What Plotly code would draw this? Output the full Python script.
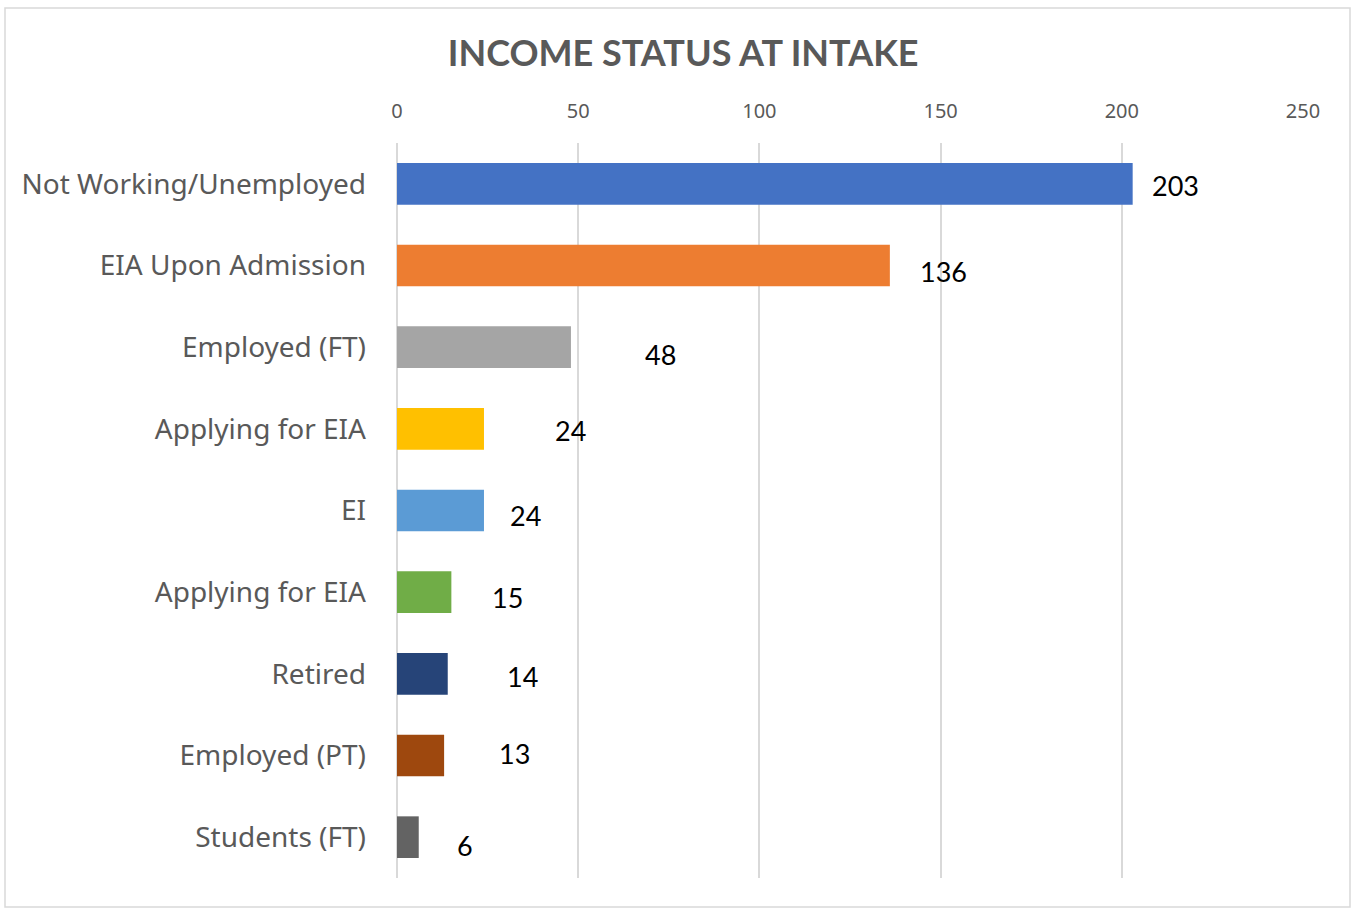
import plotly.graph_objects as go

# Income status counts at intake
categories = [
    "Not Working/Unemployed",
    "EIA Upon Admission",
    "Employed (FT)",
    "Applying for EIA",
    "EI",
    "Applying for EIA",
    "Retired",
    "Employed (PT)",
    "Students (FT)",
]
counts = [203, 136, 48, 24, 24, 15, 14, 13, 6]
bar_colors = [
    "#4472C4", "#ED7D31", "#A5A5A5", "#FFC000", "#5B9BD5",
    "#70AD47", "#264478", "#9E480E", "#636363",
]
x_ticks = [0, 50, 100, 150, 200, 250]

# Value label placement (pixel offsets from the bar end)
label_dx = [17, 28, 72, 69, 24, 39, 57, 53, 36]
label_dy = [-2, -6, -7, -2, -5, -5, -3, 2, -8]

W, H = 1355, 909
ML, MR, MT, MB = 397, 52, 143, 31
PW, PH = W - ML - MR, H - MT - MB

# Rows are positioned by index so repeated category names stay separate
rows = list(range(len(categories)))

fig = go.Figure(
    go.Bar(
        x=counts,
        y=rows,
        orientation="h",
        marker=dict(color=bar_colors, line=dict(width=0)),
        width=0.51,
        customdata=categories,
        hovertemplate="%{customdata}: %{x}<extra></extra>",
    )
)

for row, val, dx, dy in zip(rows, counts, label_dx, label_dy):
    fig.add_annotation(
        x=val, y=row, text=str(val), showarrow=False,
        xanchor="left", yanchor="middle", xshift=dx, yshift=dy,
        font=dict(family="Lato", size=27, color="#000000"),
    )

# Light outer frame around the chart area
fig.add_shape(
    type="rect", xref="paper", yref="paper",
    x0=(5 - ML) / PW, x1=(1350 - ML) / PW,
    y0=-(907 - MT - PH) / PH, y1=1 + (MT - 8) / PH,
    line=dict(color="#D9D9D9", width=1.5), fillcolor="rgba(0,0,0,0)",
    layer="below",
)

fig.update_layout(
    width=W, height=H,
    margin=dict(l=ML, r=MR, t=MT, b=MB),
    paper_bgcolor="white", plot_bgcolor="white",
    showlegend=False,
    title=dict(
        text="<b>INCOME STATUS AT INTAKE</b>",
        x=0.5042, xanchor="center", xref="container",
        y=1 - 53 / H, yanchor="middle", yref="container",
        font=dict(family="Lato", size=36, color="#595959"),
    ),
    xaxis=dict(
        side="top", range=[0, 250], tickvals=x_ticks,
        showgrid=True, gridcolor="#D9D9D9", gridwidth=1.5,
        zeroline=True, zerolinecolor="#D9D9D9", zerolinewidth=1.5,
        showline=False, ticks="", ticklabelstandoff=20,
        tickfont=dict(family="Noto Sans", size=20, color="#595959"),
    ),
    yaxis=dict(
        range=[len(categories) - 0.5, -0.5],
        tickmode="array", tickvals=rows, ticktext=categories,
        showgrid=False, zeroline=False, showline=False,
        ticks="", ticklabelstandoff=30,
        tickfont=dict(family="Noto Sans", size=28, color="#595959"),
    ),
)

fig.write_html("out.html")
